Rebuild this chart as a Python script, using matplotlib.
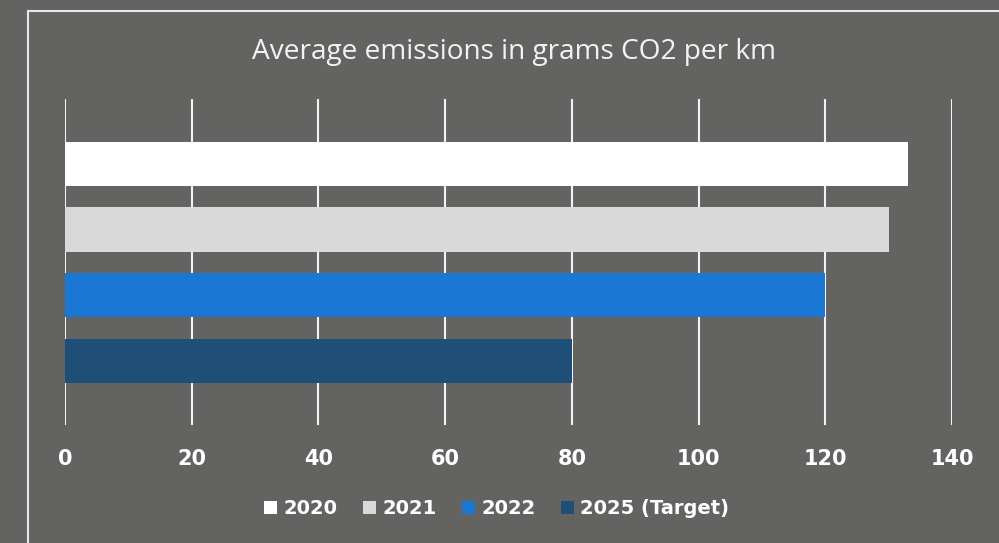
import matplotlib
matplotlib.use("Agg")
import matplotlib.pyplot as plt
from matplotlib.patches import Rectangle

# Data
series = ["2020", "2021", "2022", "2025 (Target)"]
values = [133, 130, 120, 80]
colors = ["#ffffff", "#d9d9d9", "#1a78d4", "#1f4e79"]
x_ticks = [0, 20, 40, 60, 80, 100, 120, 140]
title = "Average emissions in grams CO2 per km"

bg = "#636462"
fig = plt.figure(figsize=(9.99, 5.43), dpi=100, facecolor=bg)

# Frame around the chart area
fig.patches.append(Rectangle((28 / 999, -0.1), 1.2, 1.1 - 11 / 543,
                             transform=fig.transFigure, fill=False,
                             edgecolor="#e8e8e8", linewidth=1.5, zorder=0))

ax = fig.add_axes([65 / 999, 1 - 425 / 543, 887 / 999, 326 / 543])
ax.set_facecolor("none")

handles = []
for i, (s, v, c) in enumerate(zip(series, values, colors)):
    h = ax.barh(i, v, height=0.672, color=c, label=s, zorder=3)
    handles.append(h)

ax.set_xlim(0, 140)
ax.set_ylim(3.98, -0.99)
ax.set_xticks(x_ticks)
ax.set_xticklabels([str(t) for t in x_ticks], family="DejaVu Sans",
                   fontweight="bold", fontsize=15, color="white")
ax.set_yticks([])
ax.tick_params(axis="x", length=0, pad=17)
ax.grid(axis="x", color="#f2f2f2", linewidth=1.5, zorder=0)
for sp in ax.spines.values():
    sp.set_visible(False)

fig.text(514 / 999, 1 - 59 / 543, title, ha="center", va="baseline",
         family="Open Sans", fontsize=20.2, color="#f2f2f2")

leg = fig.legend(handles=handles, labels=series, loc="center",
                 bbox_to_anchor=(0.497, 1 - 509 / 543), ncol=4, frameon=False,
                 handlelength=0.67, handleheight=0.67, handletextpad=0.33,
                 columnspacing=1.3,
                 prop={"family": "DejaVu Sans", "weight": "bold", "size": 14})
for t in leg.get_texts():
    t.set_color("white")

fig.savefig("out.png", dpi=100, facecolor=bg)
